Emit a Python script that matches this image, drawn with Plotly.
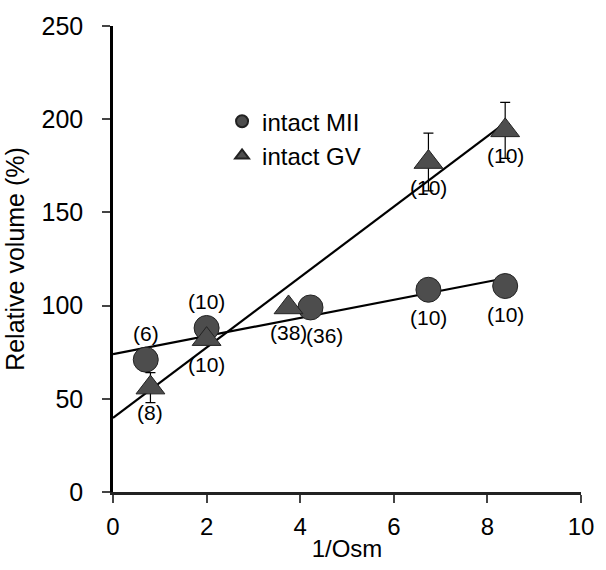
import numpy as np
import plotly.graph_objects as go

# data
mii_x = [0.7, 2.0, 4.22, 6.74, 8.38]
mii_y = [71, 88, 99, 108.5, 110.5]
mii_err = [2, 2, 1, 2, 2]
mii_n = ["(6)", "(10)", "(36)", "(10)", "(10)"]
mii_label_pos = ["top", "top", "bottom", "bottom", "bottom"]
mii_label_dx = [0, 0, 14, 0, 0]

gv_x = [0.8, 2.0, 3.75, 6.74, 8.38]
gv_y = [56, 82, 99, 177, 194]
gv_err = [8, 2, 2, 15.5, 15]
gv_n = ["(8)", "(10)", "(38)", "(10)", "(10)"]
gv_label_dx = [0, 0, 0, 0, 0]

fit_x = [0, 8.38]
x_ticks = [0, 2, 4, 6, 8, 10]
y_ticks = [0, 50, 100, 150, 200, 250]

FONT = "Liberation Sans, Arial, sans-serif"
MARK = "#4d4d4d"

fig = go.Figure()

# regression lines
for xs, ys in [(mii_x, mii_y), (gv_x, gv_y)]:
    k, b = np.polyfit(xs, ys, 1)
    fx = np.array(fit_x)
    fig.add_trace(go.Scatter(x=fx, y=k * fx + b, mode="lines",
                             line=dict(color="black", width=2.2),
                             showlegend=False, hoverinfo="skip"))

fig.add_trace(go.Scatter(
    x=mii_x, y=mii_y, mode="markers", name="intact MII",
    marker=dict(symbol="circle", size=25, color=MARK, line=dict(color="#222", width=1)),
    error_y=dict(type="data", array=mii_err, color="black", thickness=1.2, width=5),
))
fig.add_trace(go.Scatter(
    x=gv_x, y=gv_y, mode="markers", name="intact GV",
    marker=dict(symbol="triangle-up", size=25, color=MARK, line=dict(color="#222", width=1)),
    error_y=dict(type="data", array=gv_err, color="black", thickness=1.2, width=5),
))

# n labels
for x, y, t, p, dx in zip(mii_x, mii_y, mii_n, mii_label_pos, mii_label_dx):
    fig.add_annotation(x=x, y=y, text=t, showarrow=False, xshift=dx,
                       yshift=26 if p == "top" else -28,
                       font=dict(size=21, color="black", family=FONT))
for x, y, t, dx in zip(gv_x, gv_y, gv_n, gv_label_dx):
    fig.add_annotation(x=x, y=y, text=t, showarrow=False, yshift=-25, xshift=dx,
                       font=dict(size=21, color="black", family=FONT))

fig.update_layout(
    width=606, height=570,
    margin=dict(l=113, r=12, t=19, b=73),
    paper_bgcolor="white", plot_bgcolor="white",
    font=dict(family=FONT, size=24, color="black"),
    legend=dict(x=0.233, y=0.843, xanchor="left", yanchor="top",
                bgcolor="rgba(0,0,0,0)", font=dict(size=24, family=FONT),
                itemsizing="constant"),
)
fig.update_xaxes(range=[0, 10], tickvals=x_ticks, ticks="outside", ticklen=8, tickwidth=2,
                 showline=True, linecolor="#222", linewidth=2.5, showgrid=False, zeroline=False,
                 title=dict(text="1/Osm", font=dict(size=24), standoff=2),
                 tickfont=dict(size=24), ticklabelstandoff=3, ticklabeloverflow="allow")
fig.update_yaxes(range=[0, 250], tickvals=y_ticks, ticks="outside", ticklen=8, tickwidth=2,
                 showline=True, linecolor="black", linewidth=2.5, showgrid=False, zeroline=False,
                 title=dict(text="Relative volume (%)", font=dict(size=25), standoff=10),
                 tickfont=dict(size=25), ticklabelstandoff=14)

fig.write_html("out.html")
